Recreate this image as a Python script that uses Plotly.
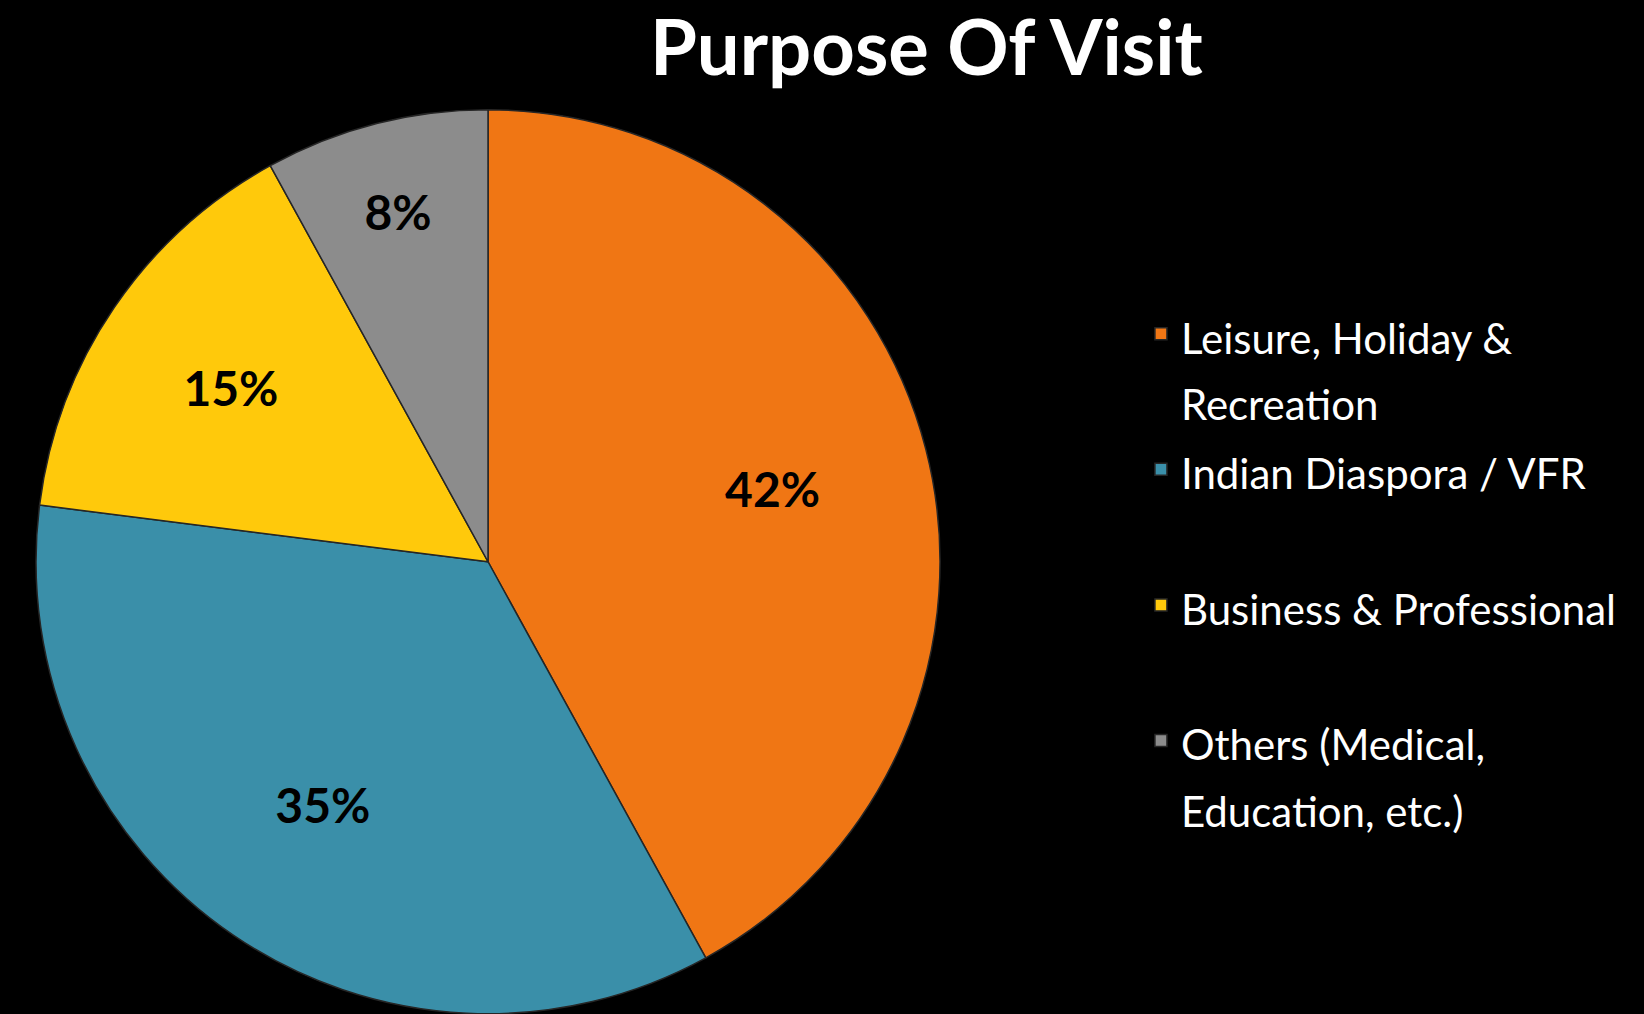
import plotly.graph_objects as go

labels = ["Leisure, Holiday &<br>Recreation",
          "Indian Diaspora / VFR<br> ",
          "Business & Professional<br> ",
          "Others (Medical,<br>Education, etc.)"]
values = [42, 35, 15, 8]
colors = ["#F07614", "#3A8FA9", "#FFC90B", "#8C8C8C"]

# legend text is drawn smaller than the legend font so the rows spread out like the original
legend_text = ["<span style='font-size:42px'>" + l + "</span>" for l in labels]

pie_domain = dict(x=[0.0219, 0.5718], y=[0.0, 0.892])

fig = go.Figure()

# the coloured pie with the legend
fig.add_trace(go.Pie(
    labels=legend_text,
    values=values,
    sort=False,
    direction="clockwise",
    rotation=0,
    marker=dict(colors=colors, line=dict(color="#262626", width=1.5)),
    textinfo="none",
    domain=pie_domain,
    hoverinfo="label+percent",
))

# same data again, transparent, with a hole so the percent labels sit further out
fig.add_trace(go.Pie(
    labels=legend_text,
    values=values,
    sort=False,
    direction="clockwise",
    rotation=0,
    hole=0.3,
    marker=dict(colors=["rgba(0,0,0,0)"] * len(values), line=dict(width=0)),
    textinfo="percent",
    textposition="inside",
    insidetextorientation="horizontal",
    textfont=dict(family="Lato", size=48, color="#000", weight="bold"),
    domain=pie_domain,
    showlegend=False,
    hoverinfo="skip",
))

fig.update_layout(
    width=1644,
    height=1014,
    title=dict(text="<b>Purpose Of Visit</b>", x=0.5635, xanchor="center",
               y=0.952, yanchor="middle",
               font=dict(family="Lato", size=76, color="#fff")),
    font=dict(family="Lato", color="#fff"),
    paper_bgcolor="#000",
    plot_bgcolor="#000",
    margin=dict(l=0, r=0, t=0, b=0),
    legend=dict(
        x=0.694, xanchor="left",
        y=0.71, yanchor="top",
        valign="top",
        font=dict(family="Lato", size=51, color="#fff"),
        bgcolor="rgba(0,0,0,0)",
    ),
)

fig.write_html("out.html",
               config={"displayModeBar": False},
               post_script="document.body.style.margin='0';"
                           "document.body.style.background='#000';")
